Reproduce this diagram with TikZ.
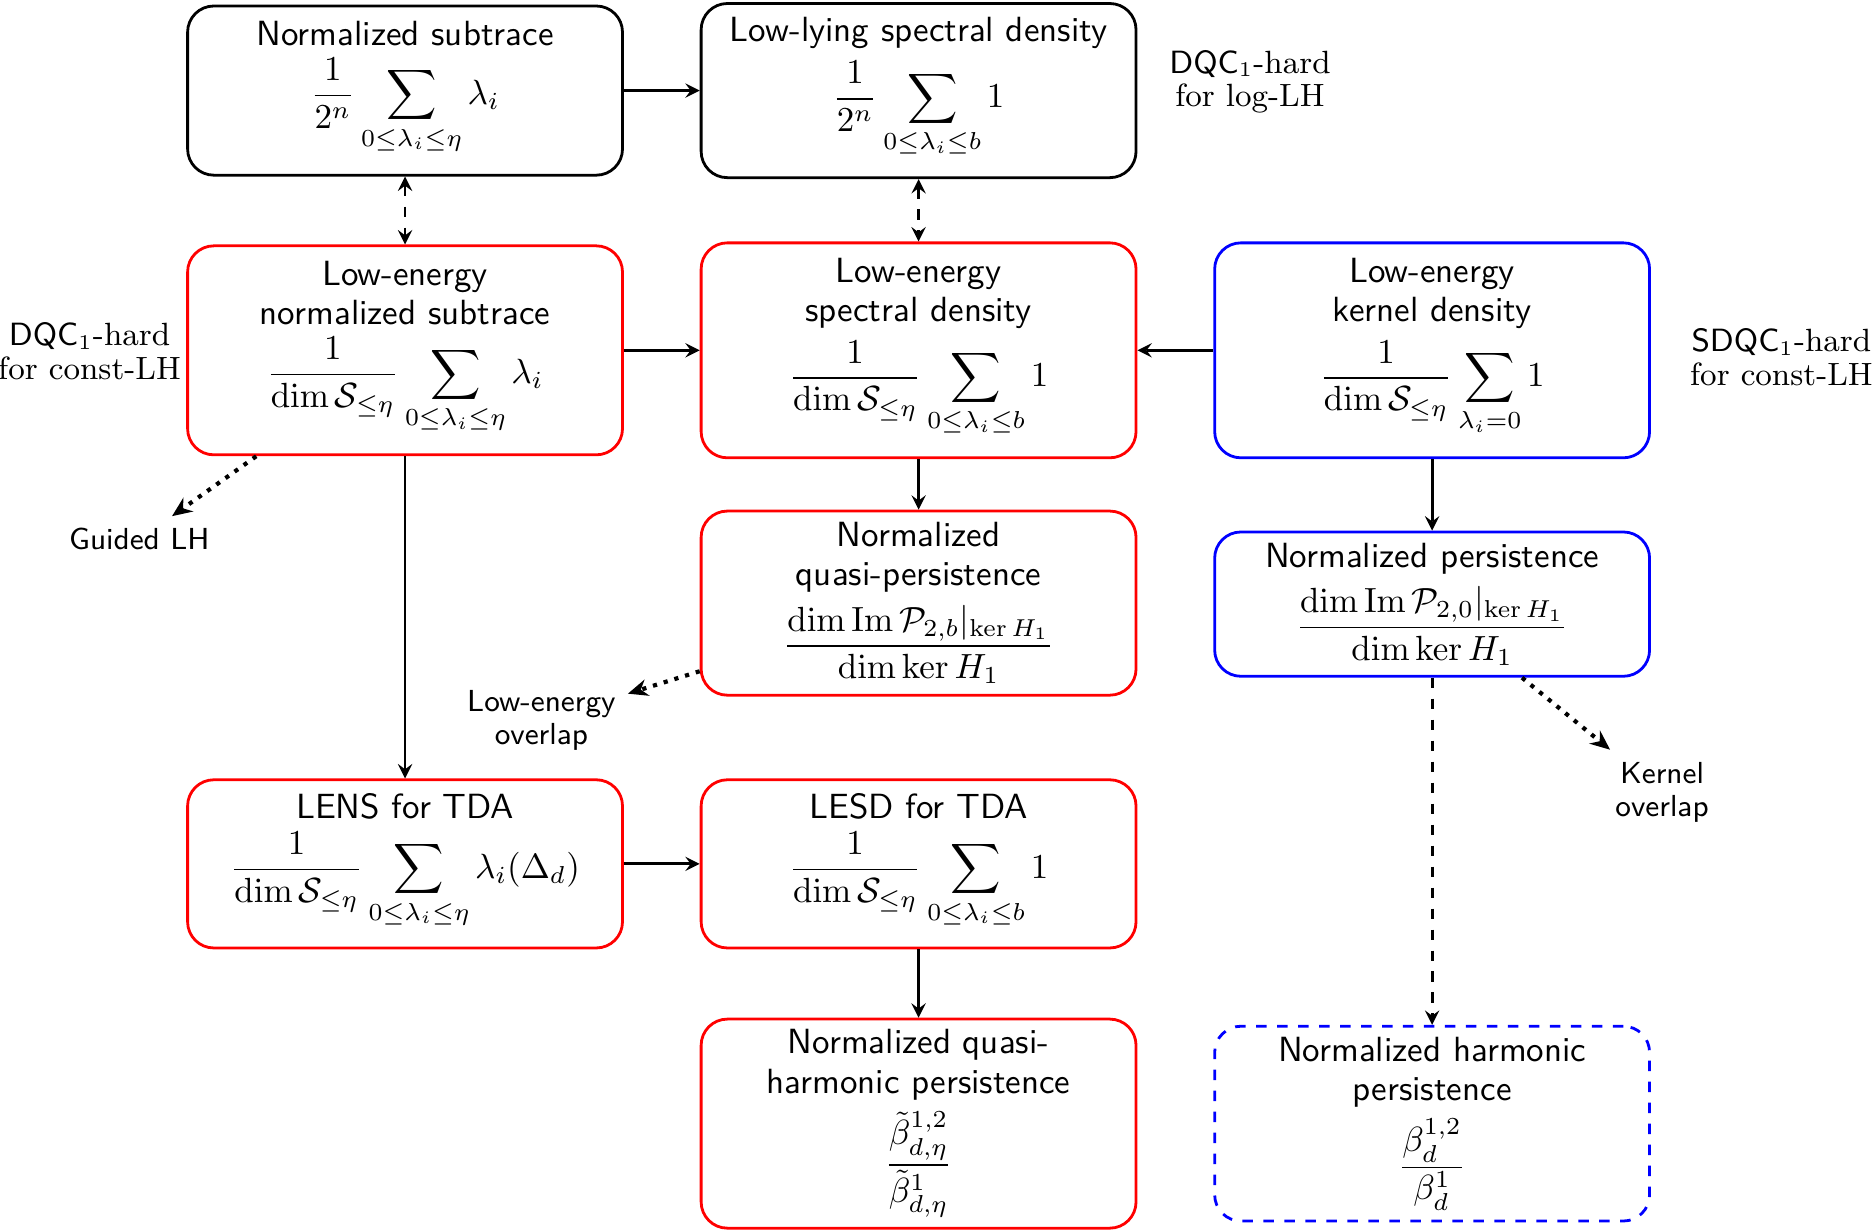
\documentclass[tikz,border=0pt]{standalone}
\usepackage{amsmath}
\usepackage{amssymb}
\usetikzlibrary{arrows.meta}
\newcommand{\spad}{\rule[-16pt]{0pt}{0pt}}

\begin{document}
\begin{tikzpicture}[>=stealth,
  box/.style={draw, thick, rounded corners=7.5pt, align=center, minimum width=4.37cm, inner sep=3pt, font=\fontsize{10}{11.2}\selectfont\sffamily},
  redbox/.style={box, draw=red},
  bluebox/.style={box, draw=blue},
  note/.style={align=center, font=\fontsize{9.2}{9.6}\selectfont},
  tag/.style={align=center, font=\fontsize{8.7}{9.5}\selectfont\sffamily},
  link/.style={thick, ->},
  weak/.style={very thick, dotted, -{Stealth[length=5.7pt, width=4.8pt]}}]
\useasboundingbox (0,0) rectangle (18.82,-12.37);
\node[box, minimum height=1.70cm] (sub) at (4.07,-0.91) {Normalized subtrace\\[2.5pt]$\displaystyle\frac{1}{2^n}\sum_{0\leq\lambda_i\leq\eta}\lambda_i\spad$};
\node[box, minimum height=1.75cm] (lowlying) at (9.23,-0.91) {Low-lying spectral density\\[2.5pt]$\displaystyle\frac{1}{2^n}\sum_{0\leq\lambda_i\leq b}1\spad$};
\node[redbox, minimum height=2.10cm] (lesub) at (4.07,-3.52) {Low-energy\\normalized subtrace\\[2.5pt]$\displaystyle\frac{1}{\dim\mathcal{S}_{\leq\eta}}\sum_{0\leq\lambda_i\leq\eta}\lambda_i\spad$};
\node[redbox, minimum height=2.16cm] (lesd) at (9.23,-3.52) {Low-energy\\spectral density\\[2.5pt]$\displaystyle\frac{1}{\dim\mathcal{S}_{\leq\eta}}\sum_{0\leq\lambda_i\leq b}1\spad$};
\node[bluebox, minimum height=2.16cm] (lekd) at (14.39,-3.52) {Low-energy\\kernel density\\[2.5pt]$\displaystyle\frac{1}{\dim\mathcal{S}_{\leq\eta}}\sum_{\lambda_i=0}1\spad$};
\node[redbox, minimum height=1.85cm] (qpers) at (9.23,-6.06) {Normalized\\quasi-persistence\\[2.5pt]$\displaystyle\frac{\dim\mathrm{Im}\,\mathcal{P}_{2,b}|_{\ker H_1}}{\dim\ker H_1}$};
\node[bluebox, minimum height=1.45cm] (pers) at (14.39,-6.07) {Normalized persistence\\[2.5pt]$\displaystyle\frac{\dim\mathrm{Im}\,\mathcal{P}_{2,0}|_{\ker H_1}}{\dim\ker H_1}$};
\node[redbox, minimum height=1.69cm] (lens) at (4.07,-8.68) {LENS for TDA\\[2.5pt]$\displaystyle\frac{1}{\dim\mathcal{S}_{\leq\eta}}\sum_{0\leq\lambda_i\leq\eta}\lambda_i(\Delta_d)\spad$};
\node[redbox, minimum height=1.69cm] (lesdtda) at (9.23,-8.68) {LESD for TDA\\[2.5pt]$\displaystyle\frac{1}{\dim\mathcal{S}_{\leq\eta}}\sum_{0\leq\lambda_i\leq b}1\spad$};
\node[redbox, minimum height=2.10cm] (qharm) at (9.23,-11.29) {Normalized quasi-\\harmonic persistence\\[2.5pt]$\displaystyle\frac{\tilde{\beta}^{1,2}_{d,\eta}}{\tilde{\beta}^{1}_{d,\eta}}$};
\node[bluebox, dashed, minimum height=1.94cm] (harm) at (14.39,-11.29) {Normalized harmonic\\persistence\\[2.5pt]$\displaystyle\frac{\beta^{1,2}_{d}}{\beta^{1}_{d}}$};
\node[note] (loglh) at (12.56,-0.82) {\textsf{DQC}$_1$-hard\\for log-LH};
\node[note] (constlh) at (0.90,-3.53) {\textsf{DQC}$_1$-hard\\for const-LH};
\node[note] (sconstlh) at (17.90,-3.59) {\textsf{SDQC}$_1$-hard\\for const-LH};
\node[tag] (guided) at (1.40,-5.42) {Guided LH};
\node[tag] (leoverlap) at (5.44,-7.24) {Low-energy\\overlap};
\node[tag] (koverlap) at (16.70,-7.96) {Kernel\\overlap};
\draw[link] (sub) -- (lowlying);
\draw[thick, dashed, <->] (sub) -- (lesub);
\draw[thick, dashed, <->] (lowlying) -- (lesd);
\draw[link] (lesub) -- (lesd);
\draw[link] (lekd) -- (lesd);
\draw[link] (lesd) -- (qpers);
\draw[link] (lekd) -- (pers);
\draw[link] (lesub) -- (lens);
\draw[link] (lens) -- (lesdtda);
\draw[link] (lesdtda) -- (qharm);
\draw[thick, dashed, ->] (pers) -- (harm);
\draw[weak] (lesub) -- (guided);
\draw[weak] (qpers) -- (leoverlap);
\draw[weak] (pers) -- (koverlap);
\end{tikzpicture}
\end{document}
